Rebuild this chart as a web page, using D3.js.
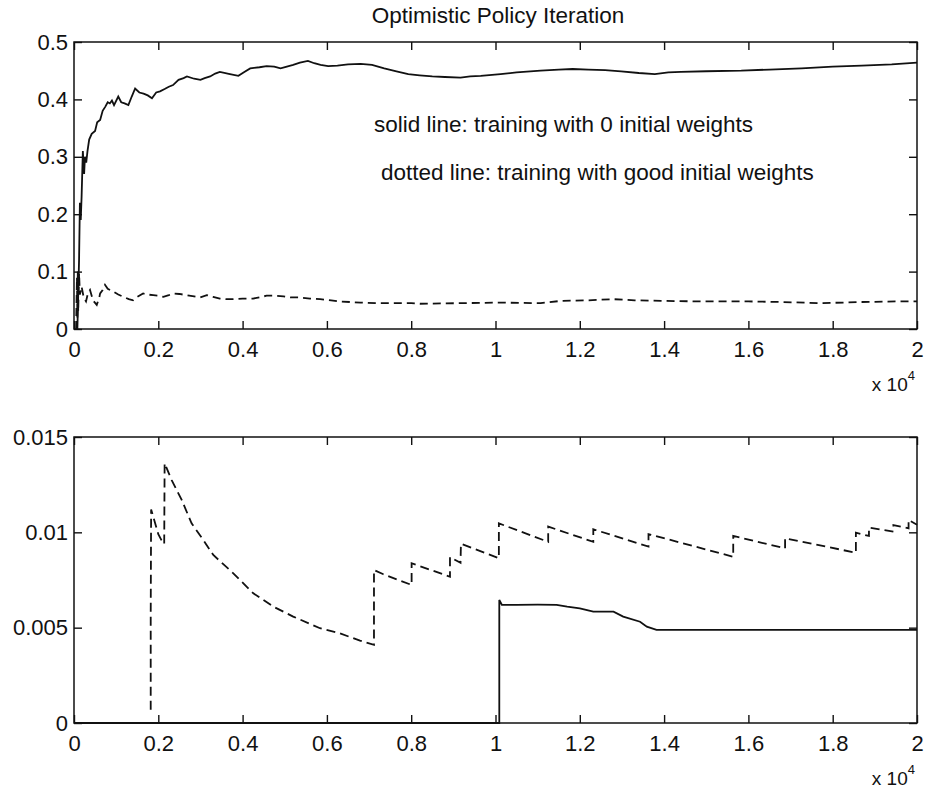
<!DOCTYPE html>
<html>
<head>
<meta charset="utf-8">
<script src="https://cdn.jsdelivr.net/npm/d3@7"></script>
<style>
  body { margin: 0; background: #fff; }
  text { font-family: "Liberation Sans", Arial, sans-serif; fill: #111; }
</style>
</head>
<body>
<div class="chart-container"></div>
<script>
// x values are iterations in units of 10^4
const xTicks = [0, 0.2, 0.4, 0.6, 0.8, 1, 1.2, 1.4, 1.6, 1.8, 2]
const topYTicks = [0, 0.1, 0.2, 0.3, 0.4, 0.5]
const bottomYTicks = [0, 0.005, 0.01, 0.015]

const titleText = 'Optimistic Policy Iteration'
const legendSolid = 'solid line: training with 0 initial weights'
const legendDotted = 'dotted line: training with good initial weights'

// top panel, solid line (0 initial weights)
const topSolid = [
  [0.008, 0], [0.012, 0.12], [0.014, 0.22], [0.016, 0.19], [0.018, 0.23], [0.021, 0.31],
  [0.024, 0.27], [0.026, 0.30], [0.029, 0.29], [0.032, 0.31], [0.036, 0.33], [0.042, 0.34],
  [0.05, 0.345], [0.055, 0.36], [0.062, 0.364], [0.068, 0.38], [0.074, 0.387], [0.08, 0.395],
  [0.085, 0.393], [0.09, 0.398], [0.095, 0.39], [0.105, 0.405], [0.112, 0.395], [0.12, 0.393],
  [0.129, 0.39], [0.137, 0.405], [0.145, 0.419], [0.155, 0.412], [0.165, 0.41], [0.175, 0.407],
  [0.185, 0.402], [0.195, 0.412], [0.204, 0.414], [0.215, 0.418], [0.225, 0.422], [0.235, 0.425],
  [0.248, 0.434], [0.26, 0.437], [0.268, 0.44], [0.285, 0.436], [0.3, 0.434], [0.31, 0.437],
  [0.323, 0.44], [0.335, 0.445], [0.346, 0.448], [0.37, 0.444], [0.39, 0.441], [0.405, 0.448],
  [0.418, 0.454], [0.44, 0.456], [0.457, 0.458], [0.475, 0.457], [0.49, 0.454], [0.505, 0.457],
  [0.52, 0.46], [0.536, 0.464], [0.555, 0.467], [0.57, 0.463], [0.585, 0.46], [0.603, 0.458],
  [0.625, 0.459], [0.65, 0.461], [0.68, 0.462], [0.707, 0.46], [0.736, 0.454], [0.765, 0.449],
  [0.793, 0.444], [0.82, 0.442], [0.85, 0.44], [0.88, 0.439], [0.917, 0.438], [0.94, 0.44],
  [0.965, 0.441], [1.012, 0.444], [1.05, 0.447], [1.107, 0.45], [1.15, 0.452], [1.183, 0.453],
  [1.22, 0.452], [1.26, 0.451], [1.298, 0.449], [1.34, 0.446], [1.378, 0.444], [1.41, 0.447],
  [1.44, 0.448], [1.5, 0.449], [1.583, 0.45], [1.65, 0.452], [1.726, 0.454], [1.8, 0.457],
  [1.869, 0.459], [1.94, 0.461], [2.0, 0.464]
]

// top panel, dashed line (good initial weights)
const topDashed = [
  [0.005, 0], [0.007, 0.09], [0.008, 0.02], [0.009, 0.1], [0.010, 0.03], [0.012, 0.097],
  [0.014, 0.06], [0.018, 0.074], [0.023, 0.055], [0.0285, 0.048], [0.033, 0.062], [0.038, 0.068],
  [0.045, 0.05], [0.054, 0.042], [0.06, 0.055], [0.062, 0.062], [0.068, 0.068], [0.0735, 0.077],
  [0.08, 0.07], [0.0935, 0.065], [0.105, 0.06], [0.117, 0.056], [0.13, 0.052], [0.14, 0.05],
  [0.15, 0.056], [0.164, 0.062], [0.175, 0.06], [0.188, 0.059], [0.2, 0.058], [0.212, 0.056],
  [0.225, 0.059], [0.236, 0.062], [0.25, 0.061], [0.267, 0.059], [0.285, 0.057], [0.299, 0.055],
  [0.315, 0.059], [0.33, 0.056], [0.346, 0.053], [0.36, 0.052], [0.378, 0.052], [0.4, 0.053],
  [0.425, 0.053], [0.445, 0.056], [0.457, 0.058], [0.48, 0.058], [0.497, 0.057], [0.515, 0.055],
  [0.536, 0.055], [0.56, 0.053], [0.584, 0.052], [0.61, 0.05], [0.631, 0.048], [0.68, 0.046],
  [0.726, 0.045], [0.8, 0.045], [0.821, 0.044], [0.916, 0.045], [1.012, 0.046], [1.107, 0.045],
  [1.155, 0.049], [1.22, 0.05], [1.279, 0.052], [1.33, 0.05], [1.393, 0.049], [1.488, 0.048],
  [1.6, 0.048], [1.679, 0.047], [1.774, 0.045], [1.869, 0.047], [1.95, 0.048], [2.0, 0.048]
]

// bottom panel, dashed line
const bottomDashed = [
  [0.182, 0.0007], [0.182, 0.0056], [0.183, 0.0112], [0.2, 0.0099], [0.212, 0.0094],
  [0.214, 0.0094], [0.215, 0.01362], [0.2317, 0.01274], [0.2555, 0.0117], [0.279, 0.01047],
  [0.3068, 0.0096], [0.3305, 0.00881], [0.378, 0.00785], [0.4255, 0.0068], [0.473, 0.0061],
  [0.52, 0.00558], [0.5836, 0.00497], [0.631, 0.0047], [0.6785, 0.00432], [0.7117, 0.0041],
  [0.7117, 0.00802], [0.734, 0.0078], [0.801, 0.00724], [0.801, 0.00838], [0.892, 0.00767],
  [0.892, 0.0087], [0.917, 0.0084], [0.918, 0.0094], [1.008, 0.00864], [1.008, 0.01047],
  [1.125, 0.0095], [1.125, 0.0103], [1.232, 0.0095], [1.232, 0.01016], [1.363, 0.00925],
  [1.363, 0.00991], [1.564, 0.00872], [1.564, 0.00981], [1.687, 0.00916], [1.687, 0.00969],
  [1.855, 0.00893], [1.855, 0.00998], [1.886, 0.00981], [1.886, 0.01025], [1.944, 0.01004],
  [1.944, 0.01038], [1.98, 0.01021], [1.98, 0.01065], [2.0, 0.0104]
]

// bottom panel, solid line
const bottomSolid = [
  [0, 0], [1.009, 0], [1.009, 0.00645], [1.015, 0.0062], [1.05, 0.0062], [1.1, 0.00621],
  [1.145, 0.0062], [1.17, 0.0061], [1.2, 0.00601], [1.232, 0.00584], [1.28, 0.00584],
  [1.303, 0.00558], [1.343, 0.00531], [1.359, 0.00505], [1.382, 0.00488], [2.0, 0.00488]
]

const width = 926
const height = 790
const plotLeft = 74
const plotRight = 917
const tickLen = 8

const svg = d3.select('.chart-container')
  .append('svg')
  .attr('width', width)
  .attr('height', height)

const drawPanel = (top, bottom, yTicks, series) => {
  const x = d3.scaleLinear().domain([0, 2]).range([plotLeft, plotRight])
  const y = d3.scaleLinear().domain([yTicks[0], yTicks[yTicks.length - 1]]).range([bottom, top])
  const fmt = d3.format('~g')
  const g = svg.append('g')

  // ticks point inward on all four sides
  g.append('g')
    .attr('transform', `translate(0,${bottom})`)
    .call(d3.axisBottom(x).tickValues(xTicks).tickFormat(fmt).tickSizeInner(-tickLen).tickSizeOuter(0).tickPadding(12.5))
  g.append('g')
    .attr('transform', `translate(0,${top})`)
    .call(d3.axisTop(x).tickValues(xTicks).tickFormat('').tickSizeInner(-tickLen).tickSizeOuter(0))
  g.append('g')
    .attr('transform', `translate(${plotLeft},0)`)
    .call(d3.axisLeft(y).tickValues(yTicks).tickFormat(fmt).tickSizeInner(-tickLen).tickSizeOuter(0).tickPadding(6))
  g.append('g')
    .attr('transform', `translate(${plotRight},0)`)
    .call(d3.axisRight(y).tickValues(yTicks).tickFormat('').tickSizeInner(-tickLen).tickSizeOuter(0))

  g.selectAll('.domain').remove()
  g.selectAll('.tick line').attr('stroke', '#111').attr('stroke-width', 1.4)
  g.selectAll('.tick text').attr('font-size', 22).attr('font-family', '"Liberation Sans", Arial, sans-serif').attr('fill', '#111')

  g.append('rect')
    .attr('x', plotLeft)
    .attr('y', top)
    .attr('width', plotRight - plotLeft)
    .attr('height', bottom - top)
    .attr('fill', 'none')
    .attr('stroke', '#111')
    .attr('stroke-width', 1.5)

  const line = d3.line().x((d) => x(d[0])).y((d) => y(d[1]))
  series.forEach((s) => {
    g.append('path')
      .datum(s.values)
      .attr('fill', 'none')
      .attr('stroke', '#111')
      .attr('stroke-width', 1.8)
      .attr('stroke-dasharray', s.dash)
      .attr('d', line)
  })

  // x 10^4 multiplier
  const mult = g.append('text')
    .attr('x', plotRight - 2)
    .attr('y', bottom + 62)
    .attr('text-anchor', 'end')
    .attr('font-size', 19)
  mult.append('tspan').text('x 10')
  mult.append('tspan').text('4').attr('font-size', 13).attr('dy', -11)

  return { x, y }
}

drawPanel(42, 329, topYTicks, [
  { values: topSolid, dash: null },
  { values: topDashed, dash: '8,5' }
])

drawPanel(437, 723, bottomYTicks, [
  { values: bottomDashed, dash: '9,5' },
  { values: bottomSolid, dash: null }
])

svg.append('text')
  .attr('x', 498)
  .attr('y', 23)
  .attr('text-anchor', 'middle')
  .attr('font-size', 22.5)
  .text(titleText)

svg.append('text')
  .attr('x', 374)
  .attr('y', 132)
  .attr('font-size', 22.5)
  .text(legendSolid)

svg.append('text')
  .attr('x', 381)
  .attr('y', 180)
  .attr('font-size', 22.5)
  .text(legendDotted)
</script>
</body>
</html>
